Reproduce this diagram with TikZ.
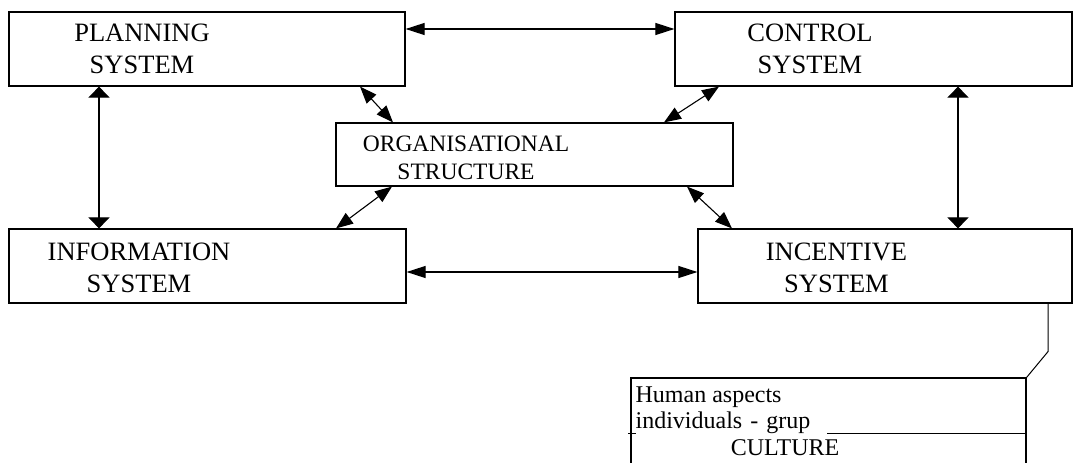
\documentclass[tikz,border=0pt]{standalone}
\usepackage{fontspec}
\setmainfont{Liberation Serif}
\usetikzlibrary{arrows.meta, calc}

\begin{document}
\begin{tikzpicture}[
    x=1pt, y=-1pt,
    % Styles
    system/.style={
        rectangle,
        draw,
        line width=1.2pt,
        inner sep=0pt,
        minimum height=74pt
    },
    caption/.style={
        align=center,
        inner sep=0pt,
        font=\fontsize{26.5}{32}\selectfont
    },
    aspect/.style={
        anchor=base west,
        inner sep=0pt,
        font=\fontsize{24}{27}\selectfont
    },
    link/.style={ % horizontal links
        {Triangle[length=19pt,width=12pt]}-{Triangle[length=19pt,width=12pt]},
        line width=1.1pt
    },
    vlink/.style={ % vertical links
        {Triangle[length=11pt,width=21pt]}-{Triangle[length=11pt,width=21pt]},
        line width=1.1pt
    },
    dlink/.style={ % links to the structure box
        {Triangle[length=17pt,width=13pt]}-{Triangle[length=17pt,width=13pt]},
        line width=1.1pt
    }
]
    \clip (0,0) rectangle (1084,463);

    % Boxes
    \node[system, minimum width=396pt] (plan) at (207,49) {};
    \node[system, minimum width=397pt] (ctrl) at (873.5,49) {};
    \node[system, minimum width=397pt, minimum height=63pt] (org) at (534.5,154.5) {};
    \node[system, minimum width=397pt] (info) at (207.5,266) {};
    \node[system, minimum width=374pt] (inc) at (885,266) {};
    \node[system, minimum width=395pt, minimum height=120pt] (culture) at (828.5,438) {};

    % Box texts
    \node[caption] at ([xshift=-65pt]plan.center) {PLANNING\\SYSTEM};
    \node[caption] at ([xshift=-63.5pt]ctrl.center) {CONTROL\\SYSTEM};
    \node[caption, font=\fontsize{23.5}{28}\selectfont] at ([xshift=-68.5pt,yshift=-3.5pt]org.center) {ORGANISATIONAL\\STRUCTURE};
    \node[caption] at ([xshift=-68.5pt,yshift=-2pt]info.center) {INFORMATION\\SYSTEM};
    \node[caption] at ([xshift=-48.5pt,yshift=-2pt]inc.center) {INCENTIVE\\SYSTEM};

    % Culture box contents
    \draw[line width=1pt] ([xshift=-2pt,yshift=-56pt]culture.north west) -- ([yshift=-56pt]culture.north east);
    \node[aspect] (human) at ([xshift=5pt,yshift=-25pt]culture.north west) {Human aspects};
    \node[aspect, fill=white, inner ysep=2pt, text width=191pt] (group) at ([xshift=5pt,yshift=-51pt]culture.north west) {individuals - grup};
    \node[aspect, anchor=base] (cult) at ([xshift=-43.5pt,yshift=-78pt]culture.north) {CULTURE};

    % Connections
    \draw[link] ([yshift=20pt]plan.east) -- ([yshift=20pt]ctrl.west);
    \draw[link] ([yshift=-6pt]info.east) -- ([yshift=-6pt]inc.west);
    \draw[vlink] ([xshift=-108pt]plan.south) -- ([xshift=-108.5pt]info.north);
    \draw[vlink] ([xshift=84.5pt]ctrl.south) -- ([xshift=73pt]inc.north);
    \draw[dlink] ([xshift=153pt]plan.south) -- ([xshift=-141.5pt]org.north);
    \draw[dlink] ([xshift=-154.5pt]ctrl.south) -- ([xshift=129.5pt]org.north);
    \draw[dlink] ([xshift=-142.5pt]org.south) -- ([xshift=128.5pt]info.north);
    \draw[dlink] ([xshift=152.5pt]org.south) -- ([xshift=-153pt]inc.north);
    \draw[line width=1pt] ([xshift=163pt]inc.south) -- ++(0,48) -- (culture.north east);
\end{tikzpicture}
\end{document}
